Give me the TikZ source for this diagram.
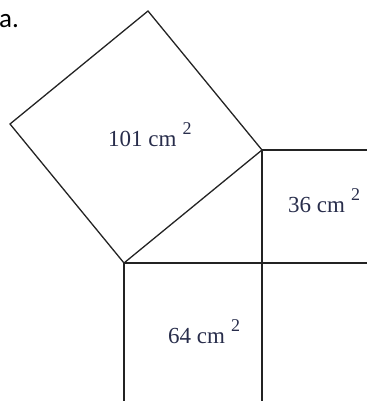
\documentclass[tikz,border=0pt]{standalone}
\usepackage{fontspec}
\usetikzlibrary{calc}
\setmainfont{Liberation Serif}
\newfontfamily\headfont{Carlito}
\definecolor{labelcol}{RGB}{40,45,75}
\definecolor{edgecol}{RGB}{35,35,35}
\newcommand{\sqexp}{\raisebox{12pt}{\fontsize{18}{18}\selectfont 2}}
\tikzset{
	side/.style={draw=edgecol, line width=1.3pt, line join=miter},
	area/.style={anchor=base west, inner sep=0pt, text=labelcol, font=\fontsize{23}{25}\selectfont}
}
\begin{document}
\begin{tikzpicture}[x=1pt, y=-1pt]
				\useasboundingbox (0,0) rectangle (367,401);
				\coordinate (B) at (124,263);
				\coordinate (R) at (262,150);
				\coordinate (L) at ($(B)+(-114,-139)$);
				\coordinate (T) at ($(R)+(-114,-139)$);
				\coordinate (Re) at (367,150);
				\coordinate (Be) at (367,263);
				\coordinate (Bs) at (124,401);
				\coordinate (Rs) at (262,401);
				\draw[side] (B) -- (R) -- (T) -- (L) -- cycle;
				\draw[side] (R) -- (Re);
				\draw[side] (B) -- (Be);
				\draw[side] (B) -- (Bs);
				\draw[side] (R) -- (Rs);
				\node[anchor=base west, inner sep=0pt, font=\headfont\fontsize{27}{30}\selectfont] (head) at (-1,27.5) {a.};
				\node[area] (big) at (108,146.5) {101 cm\hspace{6pt}\sqexp};
				\node[area] (mid) at (288,212.5) {36 cm\hspace{6pt}\sqexp};
				\node[area] (low) at (168,343) {64 cm\hspace{6pt}\sqexp};
			\end{tikzpicture}
\end{document}
